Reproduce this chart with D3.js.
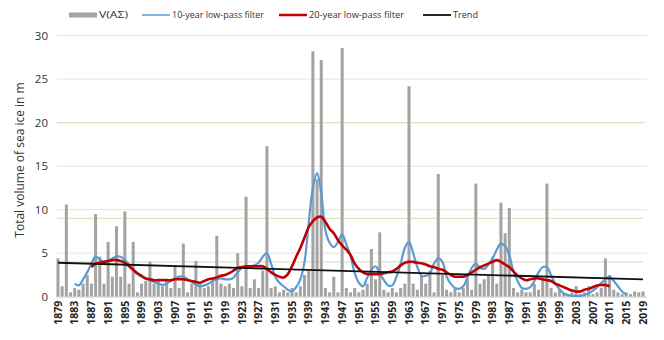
<!DOCTYPE html>
<html><head><meta charset="utf-8">
<script src="https://cdn.jsdelivr.net/npm/d3@7"></script>
<style>body{margin:0;background:#fff;}svg{display:block;font-family:"Open Sans","DejaVu Sans",sans-serif;}</style>
</head><body><svg id="c" width="664" height="340"></svg>
<script>
const firstYear = 1879, lastYear = 2019;
const years = d3.range(firstYear, lastYear + 1);
const volume = [4.4,1.2,10.6,0.5,1.0,0.8,1.5,2.5,1.5,9.5,4.6,1.5,6.3,2.3,8.1,2.3,9.8,1.5,6.3,0.5,
1.5,1.8,4.0,1.5,2.0,1.2,1.8,1.0,3.5,1.0,6.1,0.5,1.5,4.1,1.5,1.0,1.2,1.8,7.0,1.5,
1.2,1.5,1.0,5.0,1.2,11.5,1.0,2.0,1.0,3.0,17.3,1.0,1.2,0.5,0.8,0.5,1.0,0.5,1.2,2.5,
3.0,28.2,13.5,27.2,1.0,0.5,2.3,0.5,28.6,1.0,0.5,1.0,0.5,0.8,1.5,5.5,2.0,7.4,0.8,0.5,
1.0,0.5,1.0,1.5,24.2,1.5,0.8,2.5,1.5,3.0,0.5,14.1,2.5,0.8,0.5,1.0,0.5,1.0,2.0,0.8,
13.0,1.5,2.0,2.5,4.6,1.5,10.8,7.3,10.2,1.0,0.5,0.8,0.5,0.5,1.5,0.8,2.0,13.0,1.0,0.5,
0.8,0.3,0.3,0.5,1.2,0.3,0.5,1.2,0.3,0.5,1.0,4.4,2.5,0.8,0.5,0.3,0.5,0.3,0.6,0.5,0.6];
const lp10Start = 1883;
const lp10 = [1.5,1.3,2.0,2.8,3.8,4.6,4.3,4.0,4.1,4.4,4.6,4.6,4.2,3.7,3.0,2.6,2.3,2.1,1.9,1.7,
1.5,1.35,1.5,1.8,2.1,2.3,2.3,2.0,1.7,1.4,1.2,1.3,1.5,1.8,2.0,2.1,2.0,2.0,2.2,2.8,
3.3,3.4,3.5,3.6,3.9,4.6,5.0,3.8,2.3,1.6,1.2,0.8,0.6,1.1,2.0,4.0,8.5,12.5,14.2,11.9,
7.6,6.2,5.7,6.3,7.2,6.0,4.7,2.7,1.6,1.2,2.2,3.1,3.5,2.7,1.9,1.3,1.3,2.3,3.8,5.6,
6.3,5.0,3.4,2.4,2.4,2.7,3.8,4.4,4.0,2.3,1.5,1.0,0.9,1.2,2.2,3.3,3.8,3.3,3.2,3.7,
4.4,5.4,6.1,5.8,4.8,2.9,1.8,1.0,0.9,1.1,1.8,2.8,3.4,3.4,2.5,1.5,0.9,0.4,0.2,0.1,
0.1,0.1,0.2,0.4,0.7,1.1,1.6,2.0,2.3,1.8,1.2,0.6,0.2];
const lp20Start = 1887;
const lp20 = [3.4,3.8,3.9,4.0,4.1,4.2,4.2,4.1,3.9,3.5,3.1,2.7,2.4,2.1,2.0,1.9,1.9,1.9,1.9,1.9,
2.0,2.0,2.0,1.9,1.8,1.7,1.6,1.8,2.0,2.1,2.2,2.4,2.5,2.7,3.0,3.3,3.4,3.5,3.5,3.5,
3.5,3.5,3.2,2.8,2.5,2.3,2.2,2.6,3.5,4.6,5.6,6.8,8.0,8.7,9.1,9.2,8.6,7.8,7.3,6.5,
5.9,5.4,4.8,3.8,3.2,2.8,2.6,2.6,2.6,2.6,2.7,2.8,2.9,3.2,3.6,3.9,4.0,4.0,3.9,3.85,
3.7,3.5,3.4,3.2,3.1,2.8,2.5,2.3,2.3,2.3,2.5,2.8,3.1,3.4,3.6,3.8,4.0,4.2,4.0,3.7,
3.4,2.9,2.4,2.1,1.9,2.0,2.1,2.1,2.0,1.9,1.8,1.5,1.3,1.1,0.9,0.7,0.6,0.6,0.8,0.9,
1.1,1.3,1.35,1.35,1.2];
const trendYears = [1879, 2019];
const trendValues = [3.9, 2.0];
const yTicks = [0,5,10,15,20,25,30];
const refLines = [4, 9, 20];
const xTickYears = years.filter((yr,i) => i % 4 === 0);
const legendLabels = ["V(AΣ)", "10-year low-pass filter", "20-year low-pass filter", "Trend"];

const svg = d3.select("#c");
const pLeft = 55.9, pRight = 645.1, pTop = 35.7, pBottom = 296.7;
const x = d3.scaleBand().domain(years).range([pLeft, pRight]).paddingInner(0.28).paddingOuter(0.14);
const xc = d3.scaleLinear().domain([firstYear, lastYear]).range([x(firstYear)+x.bandwidth()/2, x(lastYear)+x.bandwidth()/2]);
const y = d3.scaleLinear().domain([0,30]).range([pBottom, pTop]);

// gridlines
svg.append("g").selectAll("line").data(yTicks).join("line")
  .attr("x1", 57).attr("x2", 647).attr("y1", d=>y(d)).attr("y2", d=>y(d))
  .attr("stroke", "#e4e4e4").attr("stroke-width", 1);
svg.append("g").selectAll("line").data(refLines).join("line")
  .attr("x1", 57).attr("x2", 643).attr("y1", d=>y(d)).attr("y2", d=>y(d))
  .attr("stroke", "#dfe3bf").attr("stroke-width", 1.2);

// y axis labels
const ya = svg.append("g").attr("transform", `translate(48,0)`)
  .call(d3.axisLeft(y).tickValues(yTicks).tickSize(0).tickPadding(0));
ya.select(".domain").remove();
ya.selectAll("text").attr("font-size", 11.5).attr("fill", "#333").attr("font-family", "Open Sans, sans-serif");

svg.append("text").attr("transform", "translate(24,160) rotate(-90)")
  .attr("text-anchor", "middle").attr("font-size", 12).attr("fill", "#333")
  .text("Total volume of sea ice in m");

// bars
svg.append("g").selectAll("rect").data(years).join("rect")
  .attr("x", d => x(d)).attr("width", x.bandwidth())
  .attr("y", (d,i) => y(volume[i])).attr("height", (d,i) => y(0) - y(volume[i]))
  .attr("fill", "#a3a3a3");

// baseline
svg.append("line").attr("x1", 56).attr("x2", 647).attr("y1", pBottom+0.5).attr("y2", pBottom+0.5).attr("stroke", "#d9d9d9");

// lines
const line = d3.line().x(d => xc(d[0])).y(d => y(d[1])).curve(d3.curveCatmullRom.alpha(0.5));
const lp10Data = lp10.map((v,i) => [lp10Start + i, v]);
const lp20Data = lp20.map((v,i) => [lp20Start + i, v]);
svg.append("path").datum(lp10Data).attr("d", line).attr("fill","none").attr("stroke","#5b9bd5").attr("stroke-width",2.2);
svg.append("path").datum(lp20Data).attr("d", line).attr("fill","none").attr("stroke","#c00000").attr("stroke-width",2.6);
svg.append("path").datum(trendYears.map((t,i)=>[t, trendValues[i]])).attr("d", d3.line().x(d=>xc(d[0])).y(d=>y(d[1])))
  .attr("fill","none").attr("stroke","#111").attr("stroke-width",1.8);

// x axis labels
const xa = svg.append("g").attr("transform", `translate(0,${pBottom})`)
  .call(d3.axisBottom(x).tickValues(xTickYears).tickSize(0).tickPadding(0));
xa.select(".domain").remove();
xa.selectAll("text").attr("transform", "rotate(-90)").attr("text-anchor", "end")
  .attr("x", -4).attr("y", 0).attr("dy", "0.35em")
  .attr("font-size", 10.5).attr("font-weight", "bold").attr("fill", "#222")
  .attr("font-family", "Open Sans, sans-serif");

// legend
const lg = svg.append("g").attr("font-size", 9.5).attr("fill", "#333");
const lgX = [69, 142, 279, 423];
const lgTextW = [29, 92, 95, 25];
const lgKinds = ["rect","line","line","line"];
const lgColors = ["#a3a3a3", "#5b9bd5", "#c00000", "#111"];
const lgW = [2, 1.5, 2.5, 1.8];
legendLabels.forEach((lab, i) => {
  if (lgKinds[i] === "rect") {
    lg.append("rect").attr("x", lgX[i]).attr("y", 12.5).attr("width", 28).attr("height", 5).attr("fill", lgColors[i]);
  } else {
    lg.append("line").attr("x1", lgX[i]).attr("x2", lgX[i] + 28).attr("y1", 15).attr("y2", 15)
      .attr("stroke", lgColors[i]).attr("stroke-width", lgW[i]);
  }
  lg.append("text").attr("x", lgX[i] + 30).attr("y", 15).attr("dy", "0.35em")
    .attr("textLength", lgTextW[i]).attr("lengthAdjust", "spacingAndGlyphs").text(lab);
});
</script></body></html>
